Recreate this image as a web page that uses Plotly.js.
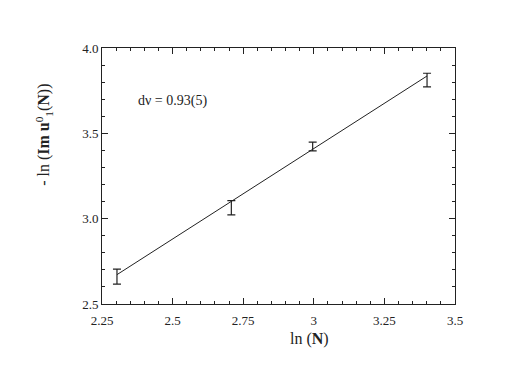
<!DOCTYPE html>
<html>
<head>
<meta charset="utf-8">
<script src="https://cdn.plot.ly/plotly-3.0.1.min.js"></script>
<style>
  html, body { margin: 0; padding: 0; background: #fff; }
  #chart { width: 507px; height: 392px; }
</style>
</head>
<body>
<div id="chart"></div>
<script>
const chartDiv = document.getElementById("chart")

// data: ln(N) for N = 10, 15, 20, 30
const lnN = [2.303, 2.708, 2.996, 3.401]
const lnImU = [2.66, 3.064, 3.423, 3.812]
const errU = [0.044, 0.042, 0.026, 0.040]

// fitted straight line, ends only
const fitX = [2.303, 3.401]
const fitY = [2.672, 3.836]

const xTicks = [2.25, 2.5, 2.75, 3, 3.25, 3.5]
const xTickText = ["2.25", "2.5", "2.75", "3", "3.25", "3.5"]
const yTicks = [2.5, 3.0, 3.5, 4.0]
const yTickText = ["2.5", "3.0", "3.5", "4.0"]

const serif = "'Liberation Serif', 'DejaVu Serif', serif"
const ink = "#222"

let tracePoints = {
    x: lnN,
    y: lnImU,
    type: "scatter",
    mode: "markers",
    marker: { size: 1, color: "rgba(0,0,0,0)" },
    error_y: { type: "data", array: errU, visible: true, color: ink, thickness: 1.2, width: 4 },
    showlegend: false,
    hoverinfo: "skip"
}
let traceFit = {
    x: fitX,
    y: fitY,
    type: "scatter",
    mode: "lines",
    line: { color: ink, width: 1 },
    showlegend: false,
    hoverinfo: "skip"
}

const axisCommon = {
    showgrid: false,
    zeroline: false,
    showline: true,
    linecolor: ink,
    linewidth: 1,
    mirror: "ticks",
    ticks: "inside",
    ticklen: 6,
    tickcolor: ink,
    tickwidth: 1,
    tickmode: "array",
    tickfont: { family: serif, size: 13, color: ink },
    fixedrange: true
}

let layout = {
    width: 507,
    height: 392,
    margin: { l: 102, r: 52, t: 48, b: 88 },
    paper_bgcolor: "#fff",
    plot_bgcolor: "#fff",
    font: { family: serif, color: ink },
    xaxis: Object.assign({}, axisCommon, {
        range: [2.25, 3.5],
        tickvals: xTicks,
        ticktext: xTickText,
        ticklabelstandoff: 4,
        minor: { dtick: 0.05, ticks: "inside", ticklen: 3, tickcolor: ink, tickwidth: 1 }
    }),
    yaxis: Object.assign({}, axisCommon, {
        range: [2.5, 4.0],
        tickvals: yTicks,
        ticktext: yTickText,
        minor: { dtick: 0.1, ticks: "inside", ticklen: 3, tickcolor: ink, tickwidth: 1 }
    }),
    annotations: [
        {
            text: "dν = 0.93(5)",
            xref: "x", yref: "y",
            x: 2.372, y: 3.69,
            xanchor: "left", yanchor: "middle",
            showarrow: false,
            font: { family: serif, size: 14, color: ink }
        },
        {
            text: "ln (<b>N</b>)",
            xref: "paper", yref: "paper",
            x: 0.589, y: -0.095,
            xanchor: "center", yanchor: "top",
            showarrow: false,
            font: { family: serif, size: 16, color: ink }
        },
        {
            text: "- ln (<b>Im u</b><sup>0</sup><sub>1</sub>(<b>N</b>))",
            xref: "paper", yref: "paper",
            x: -0.165, y: 0.66,
            xanchor: "center", yanchor: "middle",
            textangle: -90,
            showarrow: false,
            font: { family: serif, size: 16, color: ink }
        }
    ]
}
let config = {
    staticPlot: true,
    displayModeBar: false
}

Plotly.newPlot(chartDiv, [traceFit, tracePoints], layout, config)
</script>
</body>
</html>
